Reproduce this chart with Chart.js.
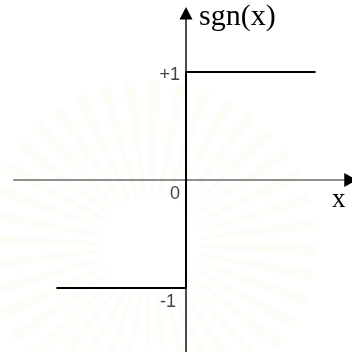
<!DOCTYPE html>
<html>
<head>
<meta charset="utf-8">
<script src="https://cdn.jsdelivr.net/npm/chart.js@4"></script>
<style>
html,body{margin:0;padding:0;background:#fff;}
#wrap{width:352px;height:352px;position:relative;}
</style>
</head>
<body>
<div id="wrap"><canvas id="c" width="352" height="352"></canvas></div>
<script>
// ---- data ----
const stepX = [-1.2, 0, 0, 1.2];
const stepY = [-1, -1, 1, 1];
const tickValues = [1, 0, -1];
const tickLabels = ['+1', '0', '-1'];
const yAxisTitle = 'sgn(x)';
const xAxisTitle = 'x';
const xAxisExtent = [-1.6, 1.47];
const yAxisExtent = [-1.6, 1.49];

const toPts = (xs, ys) => xs.map((x, i) => ({x: x, y: ys[i]}));

const watermark = {
  id: 'watermark',
  beforeDraw(chart) {
    const ctx = chart.ctx;
    const cx = chart.scales.x.getPixelForValue(-0.33);
    const cy = chart.scales.y.getPixelForValue(-0.6);
    ctx.save();
    const n = 40;
    for (let i = 0; i < n; i++) {
      const a = i * 2 * Math.PI / n;
      const a2 = a + Math.PI / n * 0.8;
      ctx.beginPath();
      ctx.moveTo(cx + Math.cos(a) * 50, cy + Math.sin(a) * 50);
      ctx.lineTo(cx + Math.cos(a) * 165, cy + Math.sin(a) * 165);
      ctx.lineTo(cx + Math.cos(a2) * 165, cy + Math.sin(a2) * 165);
      ctx.lineTo(cx + Math.cos(a2) * 50, cy + Math.sin(a2) * 50);
      ctx.closePath();
      ctx.fillStyle = 'rgba(245,235,195,0.14)';
      ctx.fill();
    }
    ctx.restore();
  }
};

const arrowsAndLabels = {
  id: 'labels',
  afterDatasetsDraw(chart) {
    const ctx = chart.ctx;
    const xs = chart.scales.x, ys = chart.scales.y;
    const x0 = xs.getPixelForValue(0);
    const y0 = ys.getPixelForValue(0);
    ctx.save();
    // arrowheads at axis ends
    ctx.fillStyle = '#000';
    const yTop = ys.getPixelForValue(yAxisExtent[1]);
    ctx.beginPath();
    ctx.moveTo(x0, yTop - 12);
    ctx.lineTo(x0 - 6.5, yTop + 0.5);
    ctx.lineTo(x0 + 6.5, yTop + 0.5);
    ctx.closePath();
    ctx.fill();
    const xEnd = xs.getPixelForValue(xAxisExtent[1]);
    ctx.beginPath();
    ctx.moveTo(xEnd + 12, y0);
    ctx.lineTo(xEnd - 0.5, y0 - 7);
    ctx.lineTo(xEnd - 0.5, y0 + 7);
    ctx.closePath();
    ctx.fill();
    // tick labels
    ctx.fillStyle = '#444';
    ctx.font = '18px "Liberation Sans", Arial, sans-serif';
    ctx.textAlign = 'right';
    ctx.textBaseline = 'alphabetic';
    const offs = {'+1': [-6, 8], '0': [-6, 19], '-1': [-10, 19]};
    tickValues.forEach((v, i) => {
      const o = offs[tickLabels[i]];
      ctx.fillText(tickLabels[i], x0 + o[0], ys.getPixelForValue(v) + o[1]);
    });
    ctx.fillStyle = '#000';
    ctx.textAlign = 'left';
    ctx.font = '30px "Liberation Serif", "Times New Roman", serif';
    ctx.fillText(yAxisTitle, x0 + 13, 25);
    ctx.font = '27px "Liberation Serif", "Times New Roman", serif';
    ctx.fillText(xAxisTitle, 332, y0 + 27);
    ctx.restore();
  }
};

const noPoint = {pointRadius: 0, pointHoverRadius: 0, pointBorderWidth: 0, pointHitRadius: 0};

new Chart(document.getElementById('c'), {
  type: 'scatter',
  data: {
    datasets: [
      Object.assign({
        data: toPts(xAxisExtent, [0, 0]),
        showLine: true,
        borderColor: '#222',
        borderWidth: 1,
        order: 3
      }, noPoint),
      Object.assign({
        data: toPts([0, 0], yAxisExtent),
        showLine: true,
        borderColor: '#111',
        borderWidth: 1.5,
        order: 2
      }, noPoint),
      Object.assign({
        data: toPts(stepX, stepY),
        showLine: true,
        borderColor: '#000',
        borderWidth: 2,
        order: 1
      }, noPoint)
    ]
  },
  options: {
    responsive: false,
    animation: false,
    events: [],
    layout: {padding: 0},
    plugins: {legend: {display: false}, tooltip: {enabled: false}},
    scales: {
      x: {type: 'linear', display: false, min: -186 / 108, max: 166 / 108},
      y: {type: 'linear', display: false, min: -172 / 108, max: 180 / 108}
    }
  },
  plugins: [watermark, arrowsAndLabels]
});
</script>
</body>
</html>
